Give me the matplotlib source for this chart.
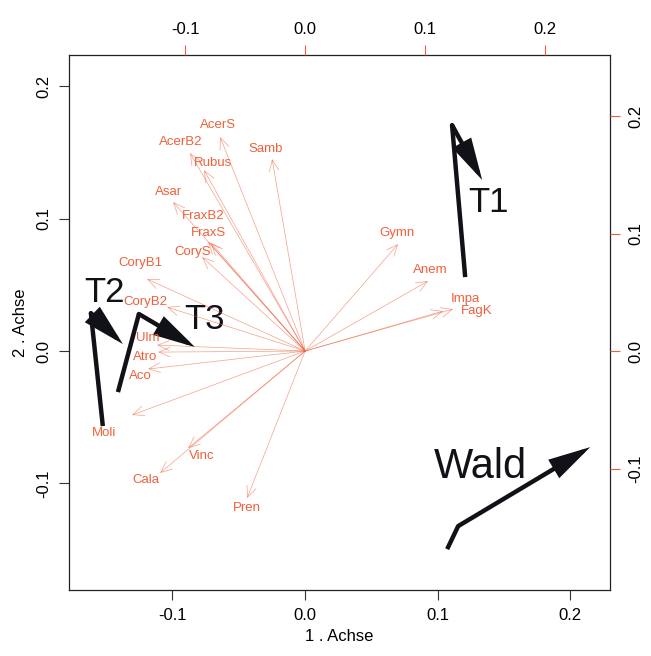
import matplotlib
matplotlib.use("Agg")
import matplotlib.pyplot as plt

plt.rcParams["font.family"] = ["Liberation Sans", "DejaVu Sans"]

RED = "#f0603c"

# species scores (second set, top/right axes)
species = ["AcerS", "AcerB2", "Rubus", "Samb", "Asar", "FraxB2", "FraxS", "CoryS",
           "CoryB1", "CoryB2", "Ulm", "Atro", "Aco", "Moli", "Vinc", "Cala", "Pren",
           "Gymn", "Anem", "Impa", "FagK"]
spec_x = [-0.0708, -0.0958, -0.0842, -0.0275, -0.1100, -0.0808, -0.0783, -0.0858,
          -0.1317, -0.1150, -0.1233, -0.1225, -0.1308, -0.1442, -0.0975, -0.1208, -0.0483,
          0.0775, 0.1025, 0.1150, 0.1233]
spec_y = [0.1821, 0.1685, 0.1540, 0.1634, 0.1268, 0.0928, 0.0919, 0.0800,
          0.0613, 0.0374, 0.0051, -0.0009, -0.0153, -0.0545, -0.0826, -0.1038, -0.1251,
          0.0911, 0.0596, 0.0340, 0.0357]
# label nudges in pixels
spec_dx = [-2, -9, 9, -6, -5, -5, -3, -9, -7, -22, -9, -13, -8, -28, 14, -14, 0, -1, 2, 22, 24]
spec_dy = [12, 11, 7, 10, 10, 26, 10, 5, 16, 5, 7, -5, -7, -18, -8, -7, -10, 11, 11, 12, -2]

# site trajectories (first set, bottom/left axes)
tracks = ["T1", "T2", "T3", "Wald"]
track_x = [[0.1208, 0.1109, 0.1336],
           [-0.1525, -0.1615, -0.1374],
           [-0.1411, -0.1253, -0.0830],
           [0.1072, 0.1155, 0.2151]]
track_y = [[0.0559, 0.1708, 0.1293],
           [-0.0567, 0.0287, 0.0053],
           [-0.0310, 0.0280, 0.0030],
           [-0.1497, -0.1323, -0.0726]]
track_lab_x = [0.138, -0.151, -0.0755, 0.132]
track_lab_y = [0.112, 0.0446, 0.0242, -0.0877]
track_lab_size = [25, 25, 25, 30]

fig = plt.figure(figsize=(6.51, 6.56), dpi=100)
pos = [0.106, 0.1006, 0.831, 0.8154]
ax = fig.add_axes(pos)
ax.set_xlim(-0.178, 0.230)
ax.set_ylim(-0.1806, 0.2237)
ax.set_xticks([-0.1, 0.0, 0.1, 0.2])
ax.set_yticks([-0.1, 0.0, 0.1, 0.2])
ax.set_xticklabels(["-0.1", "0.0", "0.1", "0.2"])
ax.set_yticklabels(["-0.1", "0.0", "0.1", "0.2"], rotation=90, va="center")
ax.tick_params(direction="out", length=7, width=0.8, color="#333333", labelsize=12, pad=6)
ax.set_xlabel("1 . Achse", fontsize=12, labelpad=4)
ax.set_ylabel("2 . Achse", fontsize=12, labelpad=6)
for s in ax.spines.values():
    s.set_linewidth(0.9)
    s.set_color("#222222")

# overlay axes for the species arrows
ax2 = fig.add_axes(pos, frameon=False)
ax2.patch.set_alpha(0)
ax2.set_xlim(-0.1967, 0.254)
ax2.set_ylim(-0.2034, 0.2519)
ax2.xaxis.tick_top()
ax2.yaxis.tick_right()
ax2.set_xticks([-0.1, 0.0, 0.1, 0.2])
ax2.set_yticks([-0.1, 0.0, 0.1, 0.2])
ax2.set_xticklabels(["-0.1", "0.0", "0.1", "0.2"])
ax2.set_yticklabels(["-0.1", "0.0", "0.1", "0.2"], rotation=90, va="center")
ax2.tick_params(direction="out", length=7, width=0.8, color=RED, labelsize=12, pad=6)

for name, x, y, dx, dy in zip(species, spec_x, spec_y, spec_dx, spec_dy):
    ax2.annotate("", xy=(x, y), xytext=(0, 0),
                 arrowprops=dict(arrowstyle="->,head_length=0.8,head_width=0.35",
                                 color=RED, lw=0.5, alpha=0.6,
                                 shrinkA=0, shrinkB=0, mutation_scale=10))
    ax2.annotate(name, xy=(x, y), xytext=(dx, dy), textcoords="offset pixels",
                 ha="center", va="center", color=RED, fontsize=9.5)

for name, xs, ys, lx, ly, fs in zip(tracks, track_x, track_y,
                                     track_lab_x, track_lab_y, track_lab_size):
    ax.plot(xs[:-1], ys[:-1], color="#111118", lw=3.2, solid_capstyle="butt",
            solid_joinstyle="miter")
    ax.annotate("", xy=(xs[-1], ys[-1]), xytext=(xs[-2], ys[-2]),
                arrowprops=dict(arrowstyle="-|>,head_length=1.5,head_width=0.38",
                                color="#111118", lw=3.2, shrinkA=0, shrinkB=0,
                                mutation_scale=15, joinstyle="miter"))
    ax.text(lx, ly, name, fontsize=fs, color="#111118", ha="center", va="center")

fig.savefig("out.png", dpi=100)
